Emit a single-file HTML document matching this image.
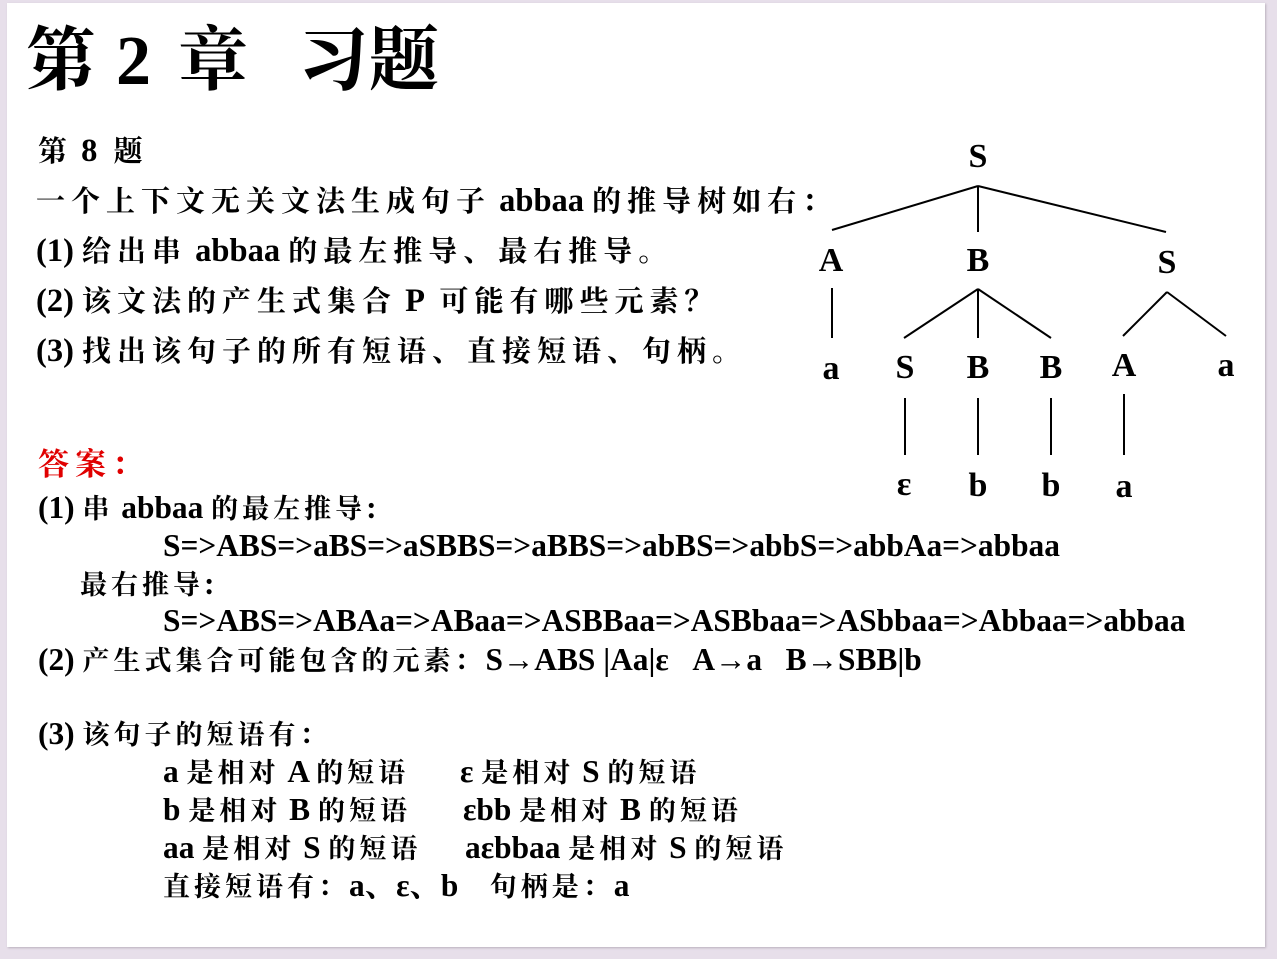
<!DOCTYPE html>
<html><head><meta charset="utf-8"><style>
body{margin:0;width:1277px;height:959px;background:#e7dfea;position:relative;overflow:hidden;font-family:"Liberation Serif","Noto Serif CJK SC",serif;font-weight:bold;color:#000}
#slide{position:absolute;left:7px;top:3px;width:1258px;height:944px;background:#fff;box-shadow:1px 1px 2px #b9b0bd}
.t{position:absolute;white-space:nowrap;line-height:1}
.q{font-size:32.5px}
.a{font-size:31.4px}
.q .c{font-size:29px;letter-spacing:6px}
.a .c{font-size:27px;letter-spacing:4px}
.n{position:absolute;font-size:34px;line-height:1;transform:translate(-50%,-50%)}
.h{position:absolute;top:27px;font-size:70px;line-height:1}
</style></head><body>
<div id="slide"></div>
<div class="h" style="left:26px">第</div>
<div class="h" style="left:116px">2</div>
<div class="h" style="left:178px">章</div>
<div class="h" style="left:298px">习</div>
<div class="h" style="left:369px">题</div>
<div class="t q" style="left:38px;top:135px"><span class="c">第</span> 8 &nbsp;<span class="c">题</span></div>
<div class="t q" style="left:36px;top:185px"><span class="c">一个上下文无关文法生成句子</span> abbaa <span class="c">的推导树如右：</span></div>
<div class="t q" style="left:36px;top:235px">(1) <span class="c">给出串</span> abbaa <span class="c">的最左推导、最右推导。</span></div>
<div class="t q" style="left:36px;top:285px">(2) <span class="c">该文法的产生式集合</span> P &nbsp;<span class="c">可能有哪些元素？</span></div>
<div class="t q" style="left:36px;top:335px">(3) <span class="c">找出该句子的所有短语、直接短语、句柄。</span></div>
<div class="t q" style="left:38px;top:449px;color:#e00000"><span class="c" style="font-size:31px">答案：</span></div>
<div class="t a" style="left:38px;top:492px">(1) <span class="c">串</span> abbaa <span class="c">的最左推导</span>:</div>
<div class="t a" style="left:163px;top:530px">S=&gt;ABS=&gt;aBS=&gt;aSBBS=&gt;aBBS=&gt;abBS=&gt;abbS=&gt;abbAa=&gt;abbaa</div>
<div class="t a" style="left:80px;top:568px"><span class="c">最右推导</span>:</div>
<div class="t a" style="left:163px;top:605px">S=&gt;ABS=&gt;ABAa=&gt;ABaa=&gt;ASBBaa=&gt;ASBbaa=&gt;ASbbaa=&gt;Abbaa=&gt;abbaa</div>
<div class="t a" style="left:38px;top:644px">(2) <span class="c">产生式集合可能包含的元素：</span>S→ABS |Aa|ε &nbsp;&nbsp;A→a &nbsp;&nbsp;B→SBB|b</div>
<div class="t a" style="left:38px;top:718px">(3) <span class="c">该句子的短语有：</span></div>
<div class="t a" style="left:163px;top:756px">a <span class="c">是相对</span> A <span class="c">的短语</span></div>
<div class="t a" style="left:460px;top:756px">ε <span class="c">是相对</span> S <span class="c">的短语</span></div>
<div class="t a" style="left:163px;top:794px">b <span class="c">是相对</span> B <span class="c">的短语</span></div>
<div class="t a" style="left:463px;top:794px">εbb <span class="c">是相对</span> B <span class="c">的短语</span></div>
<div class="t a" style="left:163px;top:832px">aa <span class="c">是相对</span> S <span class="c">的短语</span></div>
<div class="t a" style="left:465px;top:832px">aεbbaa <span class="c">是相对</span> S <span class="c">的短语</span></div>
<div class="t a" style="left:163px;top:870px"><span class="c">直接短语有：</span>a、ε、b &nbsp;&nbsp;&nbsp;<span class="c">句柄是：</span>a</div>
<svg style="position:absolute;left:0;top:0" width="1277" height="959"><g stroke="#000" stroke-width="2" fill="none">
<line x1="978" y1="186" x2="832" y2="230"/><line x1="978" y1="186" x2="978" y2="232"/><line x1="978" y1="186" x2="1166" y2="232"/>
<line x1="832" y1="288" x2="832" y2="338"/>
<line x1="978" y1="289" x2="904" y2="338"/><line x1="978" y1="289" x2="978" y2="338"/><line x1="978" y1="289" x2="1051" y2="338"/>
<line x1="1167" y1="292" x2="1123" y2="336"/><line x1="1167" y1="292" x2="1226" y2="336"/>
<line x1="905" y1="398" x2="905" y2="455"/><line x1="978" y1="398" x2="978" y2="455"/><line x1="1051" y1="398" x2="1051" y2="455"/><line x1="1124" y1="394" x2="1124" y2="455"/>
</g></svg>
<div class="n" style="left:978px;top:157px">S</div>
<div class="n" style="left:831px;top:261px">A</div>
<div class="n" style="left:978px;top:261px">B</div>
<div class="n" style="left:1167px;top:263px">S</div>
<div class="n" style="left:831px;top:369px">a</div>
<div class="n" style="left:905px;top:368px">S</div>
<div class="n" style="left:978px;top:368px">B</div>
<div class="n" style="left:1051px;top:368px">B</div>
<div class="n" style="left:1124px;top:366px">A</div>
<div class="n" style="left:1226px;top:366px">a</div>
<div class="n" style="left:904px;top:485px">ɛ</div>
<div class="n" style="left:978px;top:486px">b</div>
<div class="n" style="left:1051px;top:486px">b</div>
<div class="n" style="left:1124px;top:487px">a</div>
</body></html>
